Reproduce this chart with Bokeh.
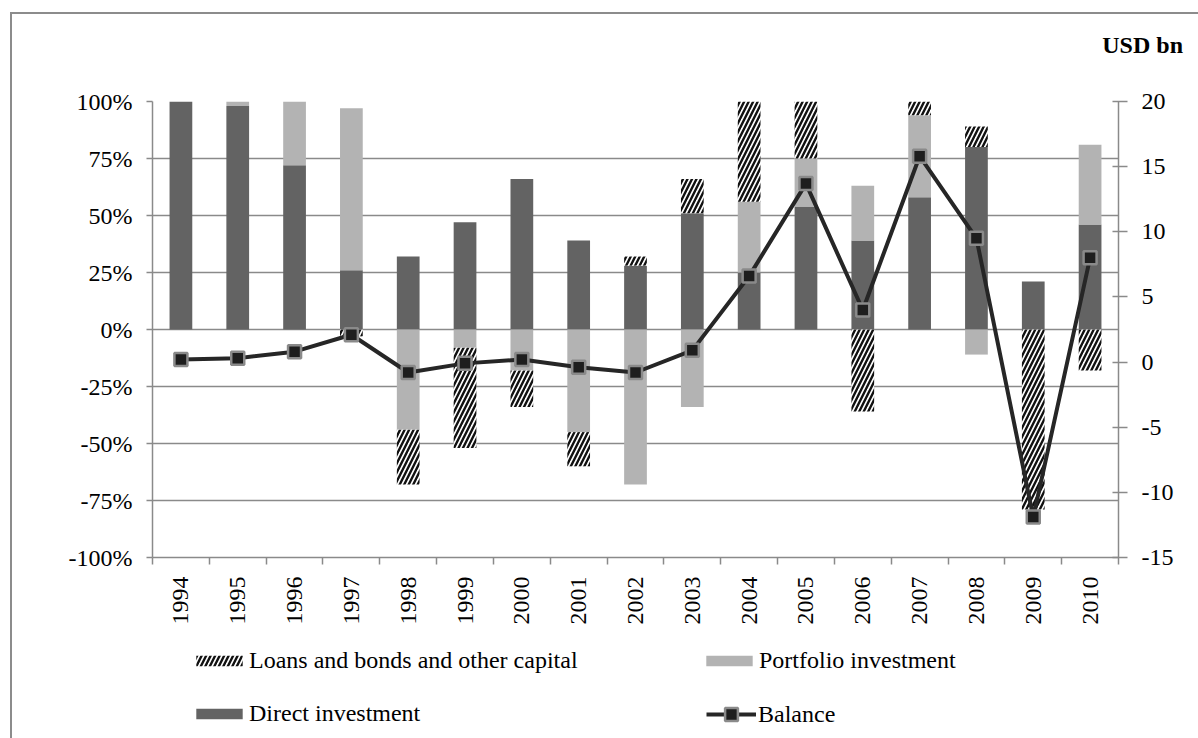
from bokeh.plotting import figure
from bokeh.layouts import column
from bokeh.models import (ColumnDataSource, Range1d, LinearAxis, FixedTicker,
                          PrintfTickFormatter, Legend, LegendItem, Div)
from bokeh.embed import file_html
from bokeh.resources import INLINE

# Capital account structure, share of net flows (%) and balance (USD bn)
years = [str(y) for y in range(1994, 2011)]
direct = [100, 98, 72, 26, 32, 47, 66, 39, 28, 51, 25, 54, 39, 58, 80, 21, 46]
portfolio = [0, 2, 28, 71, -44, -8, -18, -45, -68, -34, 31, 21, 24, 36, -11, 0, 35]
loans = [0, 0, 0, -3, -24, -44, -16, -15, 4, 15, 44, 25, -36, 6, 9, -79, -18]
balance = [0.2, 0.3, 0.8, 2.1, -0.8, -0.1, 0.2, -0.4, -0.8, 0.9, 6.6, 13.7, 4.0, 15.8, 9.5, -11.9, 8.0]

pct_ticks = [-100, -75, -50, -25, 0, 25, 50, 75, 100]
usd_ticks = [-15, -10, -5, 0, 5, 10, 15, 20]

FONT = "Liberation Serif"
FSIZE = "24px"
GRID = "#8a8a8a"
DIRECT_C = "#636363"
PORT_C = "#b3b3b3"
HATCH = dict(fill_color="white", line_color=None, hatch_pattern="/",
             hatch_color="#111111", hatch_scale=9, hatch_weight=2.4)
LINE = dict(line_color="#262626", line_width=4)
MARK = dict(marker="square", size=13, fill_color="#1e1e1e", line_color="#8a8a8a", line_width=2.5)
WIDTH = 1186
x = list(range(len(years)))

# stack positives upward and negatives downward: direct, portfolio, loans
pos_base = [0.0] * len(x)
neg_base = [0.0] * len(x)
stacks = {}
for name, vals in (("direct", direct), ("portfolio", portfolio), ("loans", loans)):
    bottoms, tops = [], []
    for i, v in enumerate(vals):
        if v >= 0:
            bottoms.append(pos_base[i]); tops.append(pos_base[i] + v); pos_base[i] += v
        else:
            tops.append(neg_base[i]); bottoms.append(neg_base[i] + v); neg_base[i] += v
    stacks[name] = ColumnDataSource(dict(x=x, bottom=bottoms, top=tops))

# header with the unit of the right axis
head = Div(width=WIDTH, height=60, margin=(0, 0, 0, 0),
           text=('<div style="width:1171px;text-align:right;padding-top:18px;'
                 "font-family:'Liberation Serif',serif;font-weight:bold;font-size:24px;"
                 'line-height:26px;color:black">USD bn</div>'))

# main chart
p = figure(width=WIDTH, height=553, output_backend="svg", toolbar_location=None,
           x_range=Range1d(-0.5, len(x) - 0.5), y_range=Range1d(-100, 100),
           min_border_left=140, min_border_right=80, min_border_top=27, min_border_bottom=70)
p.outline_line_color = None
p.background_fill_color = "white"
p.border_fill_color = "white"
p.extra_y_ranges = {"usd": Range1d(-15, 20)}

W = 0.4
p.vbar(x="x", bottom="bottom", top="top", width=W, source=stacks["direct"],
       fill_color=DIRECT_C, line_color=None)
p.vbar(x="x", bottom="bottom", top="top", width=W, source=stacks["portfolio"],
       fill_color=PORT_C, line_color=None)
p.vbar(x="x", bottom="bottom", top="top", width=W, source=stacks["loans"], **HATCH)

bal_src = ColumnDataSource(dict(x=x, y=balance))
p.line(x="x", y="y", source=bal_src, y_range_name="usd", **LINE)
p.scatter(x="x", y="y", source=bal_src, y_range_name="usd", **MARK)

p.xaxis.ticker = FixedTicker(ticks=x, minor_ticks=[i - 0.5 for i in range(len(x) + 1)])
p.xaxis.major_label_overrides = {i: y for i, y in enumerate(years)}
p.xaxis.major_label_orientation = 1.5707963
p.xaxis.major_tick_out = 0
p.xaxis.major_tick_in = 0
p.xaxis.minor_tick_out = 7
p.xaxis.minor_tick_in = 0
p.xaxis.minor_tick_line_color = GRID
p.xaxis.minor_tick_line_width = 1.5
p.xaxis.axis_line_color = GRID
p.xaxis.axis_line_width = 1.5
p.xaxis.major_label_standoff = 12

p.yaxis.ticker = FixedTicker(ticks=pct_ticks)
p.yaxis.formatter = PrintfTickFormatter(format="%d%%")
p.yaxis.major_tick_out = 6
p.yaxis.major_tick_in = 0
p.yaxis.minor_tick_out = 0
p.yaxis.major_tick_line_color = GRID
p.yaxis.major_tick_line_width = 1.5
p.yaxis.axis_line_color = GRID
p.yaxis.axis_line_width = 1.5
p.yaxis.major_label_standoff = 14

right = LinearAxis(y_range_name="usd", ticker=FixedTicker(ticks=usd_ticks),
                   formatter=PrintfTickFormatter(format="%d"))
right.major_tick_out = 9
right.major_tick_in = 6
right.minor_tick_out = 0
right.major_tick_line_color = GRID
right.major_tick_line_width = 1.5
right.axis_line_color = GRID
right.axis_line_width = 1.5
right.major_label_standoff = 14
p.add_layout(right, "right")

for ax in (p.xaxis[0], p.yaxis[0], right):
    ax.major_label_text_font = FONT
    ax.major_label_text_font_size = FSIZE
    ax.major_label_text_color = "black"

p.xgrid.grid_line_color = None
p.ygrid.ticker = FixedTicker(ticks=pct_ticks)
p.ygrid.grid_line_color = GRID
p.ygrid.grid_line_width = 1.5

# legend strip below the chart, two columns of two entries
foot = figure(width=WIDTH, height=111, output_backend="svg", toolbar_location=None,
              x_range=Range1d(0, 1), y_range=Range1d(0, 1),
              x_axis_type=None, y_axis_type=None, min_border=0)
foot.grid.visible = False
foot.outline_line_color = None
foot.background_fill_color = "white"
foot.border_fill_color = "white"

# legend glyph sources sit outside the visible range
g_loans = foot.vbar(x=[-10], top=[-10], bottom=[-11], width=1, **HATCH)
g_port = foot.vbar(x=[-10], top=[-10], bottom=[-11], width=1, fill_color=PORT_C, line_color=None)
g_direct = foot.vbar(x=[-10], top=[-10], bottom=[-11], width=1, fill_color=DIRECT_C, line_color=None)
g_line = foot.line(x=[-10, -9], y=[-10, -10], **LINE)
g_mark = foot.scatter(x=[-10], y=[-10], **MARK)


def entry(label, renderers, loc, gw, gh, standoff):
    lg = Legend(items=[LegendItem(label=label, renderers=renderers)], location=loc,
                padding=0, margin=0, spacing=0, glyph_width=gw, glyph_height=gh,
                label_standoff=standoff, border_line_color=None, background_fill_alpha=0,
                label_text_font=FONT, label_text_font_size=FSIZE, label_text_color="black")
    foot.add_layout(lg, "center")


entry("Loans and bonds and other capital", [g_loans], (38, 64), 58, 13, 1)
entry("Portfolio investment", [g_port], (548, 64), 58, 13, 1)
entry("Direct investment", [g_direct], (38, 11), 58, 13, 1)
entry("Balance", [g_line, g_mark], (554, 8), 50, 32, 2)

layout = column(head, p, foot, spacing=0)
layout.margin = (12, 0, 0, 10)
layout.styles = {"border-left": "2px solid #8c8c8c", "border-top": "2px solid #8c8c8c"}

open("out.html", "w").write(file_html(layout, INLINE))
